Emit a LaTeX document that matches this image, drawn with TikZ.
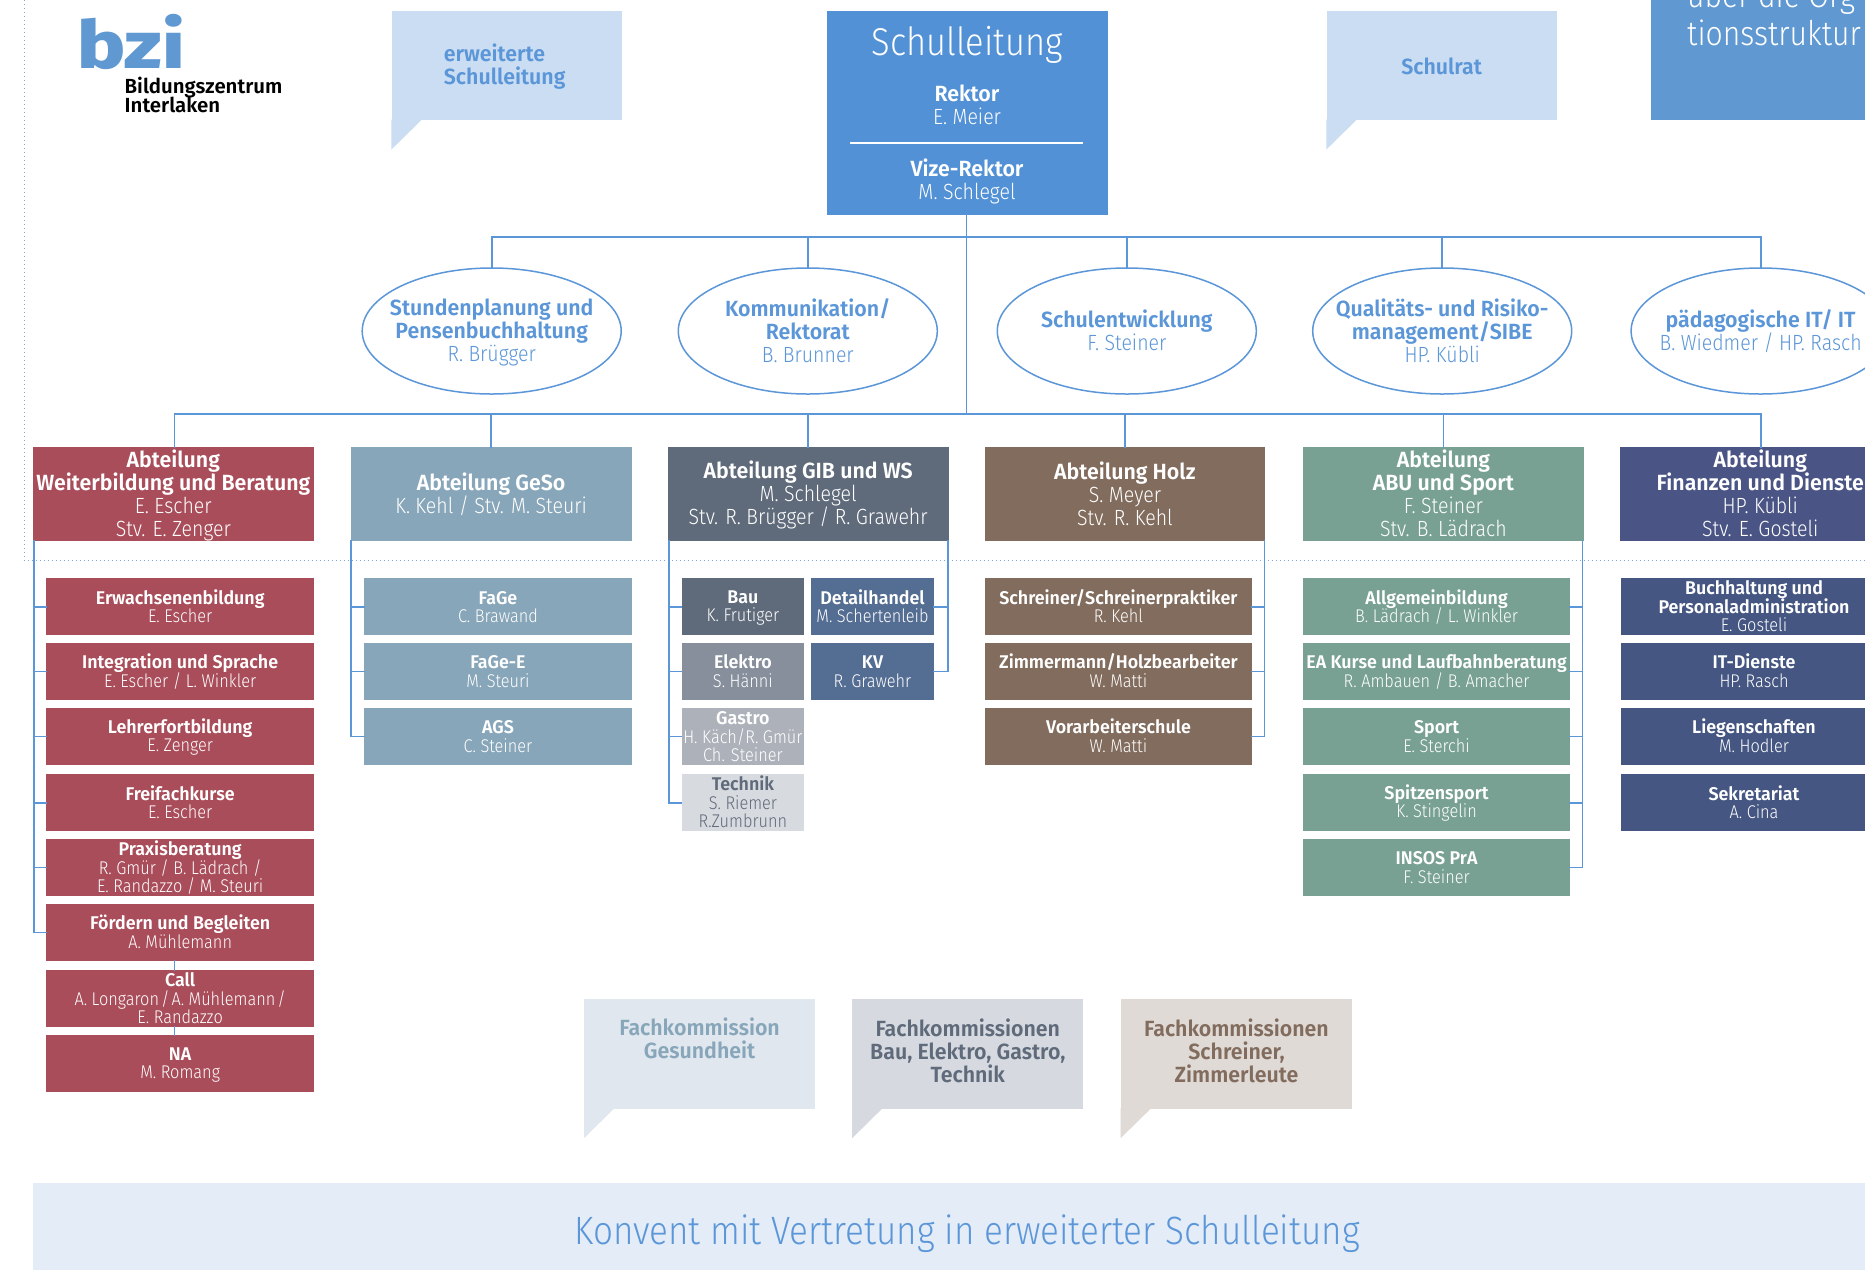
\documentclass[tikz,border=0pt]{standalone}
\usepackage{fontspec}
\setmainfont{Fira Sans}
\newfontfamily\fbf[FakeStretch=0.97]{Fira Sans SemiBold}
\newfontfamily\flf[FakeStretch=0.887]{Fira Sans Light}
\newfontfamily\flg{Fira Sans SemiBold}
\newfontfamily\flogo{Fira Sans ExtraBold}
\lineskiplimit=-100pt
\newcommand{\Sq}{\vrule width 0pt height .86\baselineskip depth .14\baselineskip}
\newcommand{\fb}{\fbf\Sq}
\newcommand{\fl}{\flf\Sq}
\newcommand{\tsl}{\hspace{2pt}/\hspace{2pt}}
\definecolor{cline}{HTML}{5B96D8}
\definecolor{cdot}{HTML}{7AA6DC}
\definecolor{csl}{HTML}{5291D6}
\definecolor{corg}{HTML}{6098D2}
\definecolor{cbub}{HTML}{CBDDF2}
\definecolor{cred}{HTML}{A94D5A}
\definecolor{cges}{HTML}{88A6B9}
\definecolor{cgib}{HTML}{5F6A7A}
\definecolor{cele}{HTML}{868F9B}
\definecolor{cgas}{HTML}{ADB2BA}
\definecolor{ctec}{HTML}{D7DADF}
\definecolor{cdet}{HTML}{546D92}
\definecolor{chol}{HTML}{826C5E}
\definecolor{cabu}{HTML}{78A194}
\definecolor{cfin}{HTML}{4A5585}
\definecolor{cfis}{HTML}{445681}
\definecolor{cfge}{HTML}{E0E7EE}
\definecolor{cfbe}{HTML}{D6DAE0}
\definecolor{cfsc}{HTML}{DFDAD6}
\definecolor{ckon}{HTML}{E3ECF7}
\newcommand{\OBox}[7]{\node[#6,minimum width={(#4-#2)*1pt},minimum height={(#5-#3)*1pt}] (#1) at ({(#2+#4)/2},{(#3+#5)/2}) {#7};}
\newcommand{\Tail}[2]{\fill[#2] ([yshift=1pt]#1.south west) -- ++(0,30) -- ++(29.5,-29) -- ++(0,-1) -- cycle;}
\tikzset{
  plain/.style={rectangle,inner sep=0pt,align=center,text=white},
  head/.style={plain,font=\fontsize{22}{23}\selectfont},
  subbox/.style={plain,font=\fontsize{18.4}{18.5}\selectfont},
  conn/.style={draw=cline,line width=1.8pt,line cap=rect},
  oval/.style={ellipse,draw=cline,line width=1.5pt,fill=white,minimum width=259pt,minimum height=126pt,inner xsep=-30pt,inner ysep=0pt,align=center,text=cline,font=\fontsize{22}{23}\selectfont},
  bubtext/.style={inner sep=0pt,font=\fontsize{22}{23}\selectfont},
  dotline/.style={draw=cdot,line width=1.2pt,dash pattern=on 1.4pt off 2.6pt},
}
\usetikzlibrary{shapes.geometric}
\begin{document}
\begin{tikzpicture}[x=1pt,y=-1pt]
\useasboundingbox (0,0) rectangle (1865,1270);
\fill[white] (0,0) rectangle (1865,1270);
\clip (0,0) rectangle (1865,1270);
% dotted frame
\coordinate (dt) at (24.3,0);
\coordinate (dc) at (24.3,560.4);
\coordinate (dr) at (1865,560.4);
\draw[dotline] (dt) -- (dc) -- (dr);
% logo
\node[inner sep=0pt,anchor=base west,text=corg,font=\flogo\fontsize{76}{76}\selectfont] (logo) at (77,68.6) {\scalebox{1.06}[0.87]{bzi}};
\node[inner sep=0pt,anchor=north west,align=left,font=\fontsize{20.4}{19.8}\selectfont] (logot) at (124.5,76.5) {\flg Bildungszentrum\\\flg Interlaken};
% top bubbles
\OBox{erw}{391.5}{11}{622}{120.4}{fill=cbub,plain}{}
\Tail{erw}{cbub}
\node[bubtext,anchor=west,align=left,text=cline] (erwt) at (443.7,66) {\fb erweiterte\\\fb Schulleitung};
\OBox{srat}{1326.5}{11}{1557}{120.4}{fill=cbub,plain}{}
\Tail{srat}{cbub}
\node[bubtext,text=cline] (sratt) at (1441.6,66) {\fb Schulrat};
% top right box
\OBox{org}{1651}{-20}{1880}{119.6}{fill=corg,plain}{}
\node[inner sep=0pt,anchor=west,align=left,text=white,font=\fontsize{34}{38}\selectfont] (orgt) at (1687,14) {\flf über die Org\\\flf tionsstruktur};
% Schulleitung
\OBox{sl}{826.8}{11}{1107.7}{214.7}{fill=csl,plain}{}
\node[inner sep=0pt,text=white,font=\flf\fontsize{38.8}{40}\selectfont] (slt) at (967,44.8) {Schulleitung};
\node[inner sep=0pt,text=white,align=center,font=\fontsize{22}{23}\selectfont] (slr) at (967,104.5) {\fb Rektor\\\fl E. Meier};
\coordinate (sla) at (850,142.9);
\coordinate (slb) at (1083,142.9);
\draw[white,line width=1.4pt] (sla) -- (slb);
\node[inner sep=0pt,text=white,align=center,font=\fontsize{22}{23}\selectfont] (slv) at (967,180.5) {\fb Vize-Rektor\\\fl M. Schlegel};
% ovals
\node[oval] (o1) at (491.7,331) {\fb Stundenplanung und\\\fb Pensenbuchhaltung\\\fl R. Brügger};
\node[oval] (o2) at (807.8,331) {\fb Kommunikation/\\\fb Rektorat\\\fl B. Brunner};
\node[oval] (o3) at (1126.8,331) {\fb Schulentwicklung\\\fl F. Steiner};
\node[oval] (o4) at (1442.2,331) {\fb Qualitäts- und Risiko-\\\fb management/SIBE\\\fl HP. Kübli};
\node[oval] (o5) at (1760.6,331) {\fb pädagogische IT/ IT\\\fl B. Wiedmer / HP. Rasch};
% department heads
\OBox{ha}{32.6}{447}{314}{540.8}{head,fill=cred}{\fb Abteilung\\\fb Weiterbildung und Beratung\\\fl E. Escher\\\fl Stv. E. Zenger}
\OBox{hb}{350.5}{447}{631.7}{540.8}{head,fill=cges}{\fb Abteilung GeSo\\\fl K. Kehl~/~Stv. M. Steuri}
\OBox{hc}{667.8}{447}{948.5}{540.8}{head,fill=cgib}{\fb Abteilung GIB und WS\\\fl M. Schlegel\\\fl Stv. R. Brügger~/~R. Grawehr}
\OBox{hd}{984.9}{447}{1265}{540.8}{head,fill=chol}{\fb Abteilung Holz\\\fl S. Meyer\\\fl Stv. R. Kehl}
\OBox{he}{1303.3}{447}{1583.5}{540.8}{head,fill=cabu}{\fb Abteilung\\\fb ABU und Sport\\\fl F. Steiner\\\fl Stv. B. Lädrach}
\OBox{hf}{1620}{447}{1900.6}{540.8}{head,fill=cfin}{\fb Abteilung\\\fb Finanzen und Dienste\\\fl HP. Kübli\\\fl Stv. E. Gosteli}
% column A
\OBox{a1}{46.3}{578.2}{314}{635}{subbox,fill=cred}{\fb Erwachsenenbildung\\\fl E. Escher}
\OBox{a2}{46.3}{642.9}{314}{700.1}{subbox,fill=cred}{\fb Integration und Sprache\\\fl E. Escher / L. Winkler}
\OBox{a3}{46.3}{708}{314}{764.9}{subbox,fill=cred}{\fb Lehrerfortbildung\\\fl E. Zenger}
\OBox{a4}{46.3}{774.2}{314}{831}{subbox,fill=cred}{\fb Freifachkurse\\\fl E. Escher}
\OBox{a5}{46.3}{838.9}{314}{896.1}{subbox,fill=cred}{\fb Praxisberatung\\\fl R. Gmür / B. Lädrach /\\\fl E. Randazzo / M. Steuri}
\OBox{a6}{46.3}{904}{314}{960.9}{subbox,fill=cred}{\fb Fördern und Begleiten\\\fl A. Mühlemann}
\OBox{a7}{46.3}{970.2}{314}{1027}{subbox,fill=cred}{\fb Call\\\fl A. Longaron\tsl A. Mühlemann\tsl\\\fl E. Randazzo}
\OBox{a8}{46.3}{1034.9}{314}{1092.1}{subbox,fill=cred}{\fb NA\\\fl M. Romang}
% column B
\OBox{b1}{364.2}{578.2}{631.7}{635}{subbox,fill=cges}{\fb FaGe\\\fl C. Brawand}
\OBox{b2}{364.2}{642.9}{631.7}{700.1}{subbox,fill=cges}{\fb FaGe-E\\\fl M. Steuri}
\OBox{b3}{364.2}{708}{631.7}{764.9}{subbox,fill=cges}{\fb AGS\\\fl C. Steiner}
% column C
\OBox{c1}{681.5}{578.2}{804.3}{635}{subbox,fill=cgib}{\fb Bau\\\fl K. Frutiger}
\OBox{c2}{681.5}{642.9}{804.3}{700.1}{subbox,fill=cele}{\fb Elektro\\\fl S. Hänni}
\OBox{c3}{681.5}{708}{804.3}{764.9}{subbox,fill=cgas}{\fb Gastro\\\fl H. Käch/R. Gmür\\\fl Ch. Steiner}
\OBox{c4}{681.5}{774.2}{804.3}{831}{subbox,fill=ctec,text=cgib}{\fb Technik\\\fl S. Riemer\\\fl R.Zumbrunn}
\OBox{c5}{811.4}{578.2}{933.6}{635}{subbox,fill=cdet}{\fb Detailhandel\\\fl M. Schertenleib}
\OBox{c6}{811.4}{642.9}{933.6}{700.1}{subbox,fill=cdet}{\fb KV\\\fl R. Grawehr}
% column D
\OBox{d1}{984.9}{578.2}{1252}{635}{subbox,fill=chol}{\fb Schreiner/Schreinerpraktiker\\\fl R. Kehl}
\OBox{d2}{984.9}{642.9}{1252}{700.1}{subbox,fill=chol}{\fb Zimmermann/Holzbearbeiter\\\fl W. Matti}
\OBox{d3}{984.9}{708}{1252}{764.9}{subbox,fill=chol}{\fb Vorarbeiterschule\\\fl W. Matti}
% column E
\OBox{e1}{1303.3}{578.2}{1569.8}{635}{subbox,fill=cabu}{\fb Allgemeinbildung\\\fl B. Lädrach / L. Winkler}
\OBox{e2}{1303.3}{642.9}{1569.8}{700.1}{subbox,fill=cabu}{\fb EA Kurse und Laufbahnberatung\\\fl R. Ambauen~/~B. Amacher}
\OBox{e3}{1303.3}{708}{1569.8}{764.9}{subbox,fill=cabu}{\fb Sport\\\fl E. Sterchi}
\OBox{e4}{1303.3}{774.2}{1569.8}{831}{subbox,fill=cabu}{\fb Spitzensport\\\fl K. Stingelin}
\OBox{e5}{1303.3}{838.9}{1569.8}{896.1}{subbox,fill=cabu}{\fb INSOS PrA\\\fl F. Steiner}
% column F
\OBox{f1}{1621}{578.2}{1887}{635}{subbox,fill=cfis}{\fb Buchhaltung und\\\fb Personaladministration\\\fl E. Gosteli}
\OBox{f2}{1621}{642.9}{1887}{700.1}{subbox,fill=cfis}{\fb IT-Dienste\\\fl HP. Rasch}
\OBox{f3}{1621}{708}{1887}{764.9}{subbox,fill=cfis}{\fb Liegenschaften\\\fl M. Hodler}
\OBox{f4}{1621}{774.2}{1887}{831}{subbox,fill=cfis}{\fb Sekretariat\\\fl A. Cina}
% bottom bubbles
\OBox{k1}{584.2}{998.6}{815}{1109}{fill=cfge,plain}{}
\Tail{k1}{cfge}
\node[bubtext,anchor=north,align=center,text=cges] (k1t) at (699.6,1016) {\fb Fachkommission\\\fb Gesundheit};
\OBox{k2}{852.3}{998.6}{1083.3}{1109}{fill=cfbe,plain}{}
\Tail{k2}{cfbe}
\node[bubtext,anchor=north,align=center,text=cgib] (k2t) at (967.8,1016) {\fb Fachkommissionen\\\fb Bau, Elektro, Gastro,\\\fb Technik};
\OBox{k3}{1120.8}{998.6}{1351.6}{1109}{fill=cfsc,plain}{}
\Tail{k3}{cfsc}
\node[bubtext,anchor=north,align=center,text=chol] (k3t) at (1236.5,1016) {\fb Fachkommissionen\\\fb Schreiner,\\\fb Zimmerleute};
% Konvent
\OBox{kon}{32.6}{1182.6}{1865}{1270}{fill=ckon,plain}{}
\node[inner sep=0pt,text=cline,font=\flf\fontsize{39.5}{40}\selectfont] (kont) at (967,1233.5) {Konvent mit Vertretung in erweiterter Schulleitung};
% connectors: trunk and buses
\coordinate (tl) at (491.7,236.7);
\coordinate (tr) at (1760.6,236.7);
\coordinate (ml) at (174.4,414.3);
\coordinate (mr) at (1760.6,414.3);
\coordinate (tc) at (966.4,236.7);
\coordinate (mc) at (966.4,414.3);
\draw[conn] (sl.south -| tc) -- (mc);
\draw[conn] (o1.north) -- (tl) -- (tr) -- (o5.north);
\draw[conn] (o2.north) -- (o2.north |- tl);
\draw[conn] (o3.north) -- (o3.north |- tl);
\draw[conn] (o4.north) -- (o4.north |- tl);
\draw[conn] (ha.north -| ml) -- (ml) -- (mr) -- (hf.north -| mr);
\draw[conn] (hb.north) -- (hb.north |- ml);
\draw[conn] (hc.north) -- (hc.north |- ml);
\draw[conn] (hd.north) -- (hd.north |- ml);
\draw[conn] (he.north) -- (he.north |- ml);
% side buses
\coordinate (ba) at (33.8,540.8);
\coordinate (bb) at (351,540.8);
\coordinate (bc) at (669,540.8);
\coordinate (bcr) at (947.9,540.8);
\coordinate (bd) at (1264.5,540.8);
\coordinate (be) at (1582.4,540.8);
\draw[conn] (ba) -- (ba |- a6.west) -- (a6.west);
\foreach \n in {a1,a2,a3,a4,a5} \draw[conn] (ba |- \n.west) -- (\n.west);
\draw[conn] (a6.south -| ml) -- (a7.north -| ml);
\draw[conn] (a7.south -| ml) -- (a8.north -| ml);
\draw[conn] (bb) -- (bb |- b3.west) -- (b3.west);
\foreach \n in {b1,b2} \draw[conn] (bb |- \n.west) -- (\n.west);
\draw[conn] (bc) -- (bc |- c4.west) -- (c4.west);
\foreach \n in {c1,c2,c3} \draw[conn] (bc |- \n.west) -- (\n.west);
\draw[conn] (bcr) -- (bcr |- c6.east) -- (c6.east);
\draw[conn] (bcr |- c5.east) -- (c5.east);
\draw[conn] (bd) -- (bd |- d3.east) -- (d3.east);
\foreach \n in {d1,d2} \draw[conn] (bd |- \n.east) -- (\n.east);
\draw[conn] (be) -- (be |- e5.east) -- (e5.east);
\foreach \n in {e1,e2,e3,e4} \draw[conn] (be |- \n.east) -- (\n.east);
\end{tikzpicture}
\end{document}
